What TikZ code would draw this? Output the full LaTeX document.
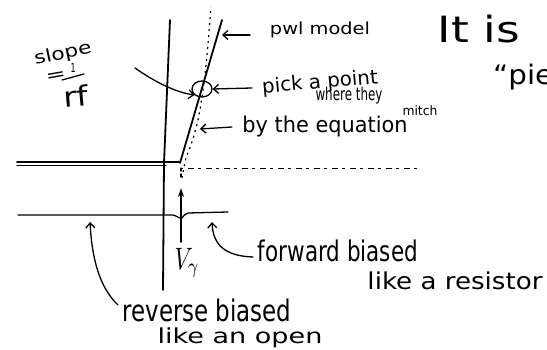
\documentclass[tikz,border=0pt]{standalone}
\usepackage{fontspec}
\setmainfont{DejaVu Sans}
\usetikzlibrary{arrows.meta,shapes.geometric}
\newcommand{\hw}[3]{\resizebox*{#1pt}{#2pt}{#3}}
\tikzset{
  ink/.style={line width=1.3pt, line cap=round, line join=round},
  hand/.style={inner sep=0pt, anchor=center},
  barb/.style={ink, -{Straight Barb[length=5pt,width=9pt,line width=1.3pt]}},
  solidtip/.style={ink, line width=1.6pt, -{Stealth[length=9pt,width=6pt]}},
  dots/.style={line width=1.2pt, dash pattern=on 2pt off 4pt},
  sparse/.style={line width=0.8pt, dash pattern=on 3pt off 5pt on 6pt off 4pt},
}
\begin{document}
\begin{tikzpicture}[x=1pt,y=-1pt]
\useasboundingbox[fill=white] (0,0) rectangle (547,350);

% axes
\draw[ink, line width=1.8pt] (170,20) -- (164,163) -- (163,290);
\draw[ink, line width=1.6pt] (17,162) -- (180,162);
\draw[ink, line width=1.4pt] (17,165.5) -- (166,165.5);
% pwl model line
\coordinate (knee) at (180,163);
\coordinate (top) at (222,20);
\draw[ink, line width=1.8pt] (knee) -- (top);
% dotted horizontal
\coordinate (dh1) at (180,168);
\coordinate (dh2) at (420,168);
\draw[sparse] (dh1) -- (dh2);
% dotted exponential curve
\draw[dots] plot[smooth] coordinates {(182,178) (186,158) (191,145) (198,120) (203,90) (207,55) (211,7)};
% circle
\node[draw, ink, ellipse, minimum width=20pt, minimum height=16pt, inner sep=0pt] (pt) at (202,89) {};

% lower axis
\draw[ink] (18,215) -- (173,215) .. controls (177,216) and (180,219) .. (182,218)
  .. controls (184,216) and (185,213) .. (188,213) -- (228,212);

% labels
\node[hand, rotate=12] (slope) at (63,54) {\hw{58}{17}{slope}};
\node[hand, rotate=10] (eq) at (56,77) {\hw{20}{8}{=}};
\node[hand] (one) at (73,68) {\hw{5}{9}{1}};
\draw[ink] (62,80) -- (84,74);
\node[hand, rotate=5] (rf) at (76,96) {\hw{25}{21}{rf}};

\node[hand] (pwl) at (320,30) {\hw{100}{16}{pwl model}};
\node[hand, rotate=5] (pick) at (320,83) {\hw{116}{19}{pick a point}};
\node[hand] (where) at (349,96) {\hw{67}{17}{where they}};
\node[hand] (mitch) at (420,111) {\hw{35}{10}{mitch}};
\node[hand] (by) at (325,127) {\hw{165}{21}{by the equation}};
\node[hand] (itis) at (479,29) {\hw{82}{28}{It is}};
\node[hand, anchor=west] (pie) at (493,77) {\hw{60}{26}{“pie}};

\node[hand] (vg) at (187,263) {\hw{25}{30}{$V_\gamma$}};
\node[hand] (fwd) at (338,251) {\hw{160}{22}{forward biased}};
\node[hand] (res) at (455,281) {\hw{175}{18}{like a resistor}};
\node[hand] (rev) at (207,310) {\hw{169}{23}{reverse biased}};
\node[hand] (open) at (240,338) {\hw{165}{20}{like an open}};

% arrows
\coordinate (a1) at (250,35);
\coordinate (a1t) at (222,35);
\draw[barb] (a1) -- (a1t);
\coordinate (a2) at (252,88);
\draw[barb] (a2) -- (pt.east);
\coordinate (a3) at (232,127);
\coordinate (a3t) at (200,129);
\draw[barb] (a3) -- (a3t);
\coordinate (s1) at (135,68);
\draw[barb] (s1) .. controls (155,82) and (175,92) .. (pt.south west);

\coordinate (vgs) at (181,242);
\coordinate (vgt) at (181,188);
\draw[solidtip] (vgs) -- (vgt);
\draw[ink, dash pattern=on 3pt off 3pt] (181,168) -- (181,178);

\coordinate (f1) at (253,257);
\coordinate (f1t) at (212,222);
\draw[barb] (f1) .. controls (225,256) and (213,245) .. (f1t);
\coordinate (r1) at (118,305);
\coordinate (r1t) at (90,222);
\draw[barb] (r1) .. controls (100,288) and (92,260) .. (r1t);
\end{tikzpicture}
\end{document}
